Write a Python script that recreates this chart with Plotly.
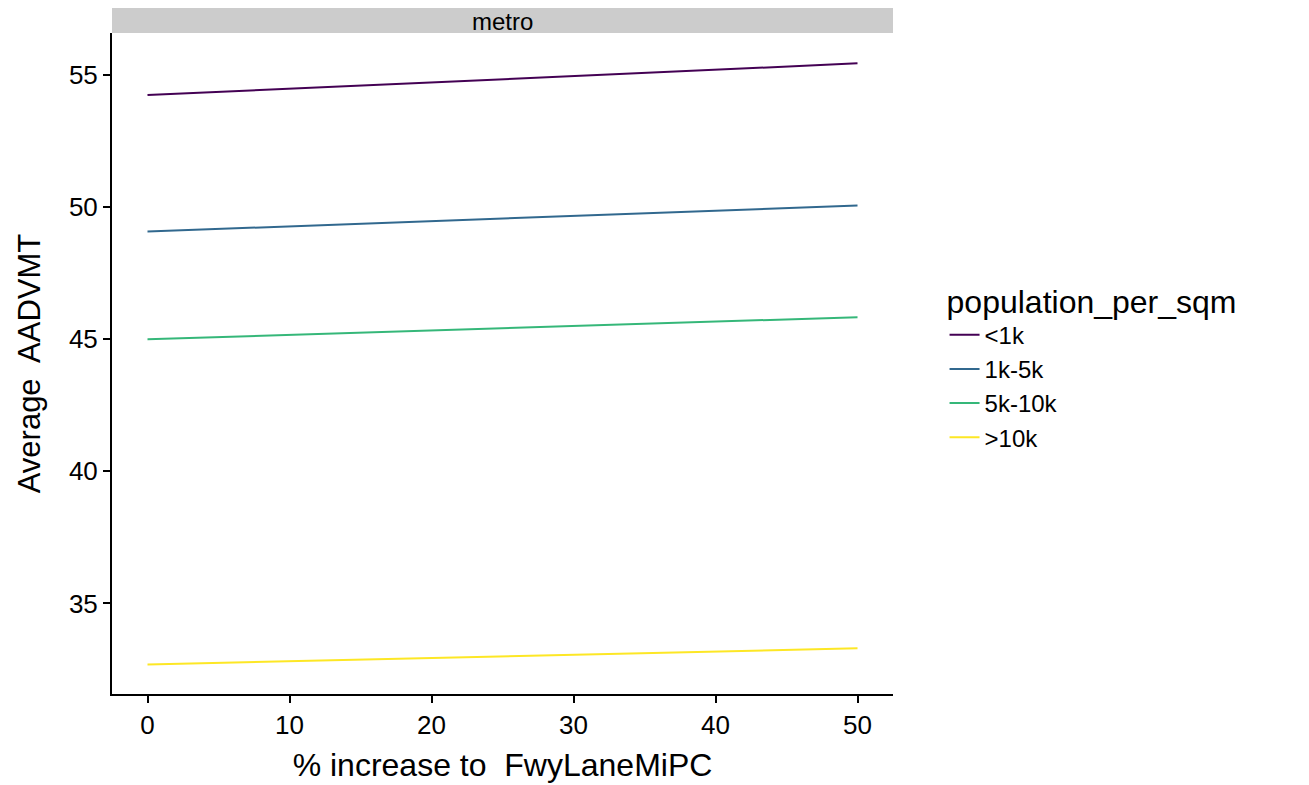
import plotly.graph_objects as go

# Data
x_pct = [0, 50]
categories = ["<1k", "1k-5k", "5k-10k", ">10k"]
series = {
    "<1k": [54.25, 55.45],
    "1k-5k": [49.08, 50.07],
    "5k-10k": [45.0, 45.84],
    ">10k": [32.69, 33.30],
}
colors = {"<1k": "#440154", "1k-5k": "#31688E", "5k-10k": "#35B779", ">10k": "#FDE725"}
x_ticks = [0, 10, 20, 30, 40, 50]
y_ticks = [35, 40, 45, 50, 55]
facet_label = "metro"

FONT = "Liberation Sans, Arial, sans-serif"

fig = go.Figure()
for c in categories:
    fig.add_trace(go.Scatter(
        x=x_pct, y=series[c], mode="lines", name=c,
        line=dict(color=colors[c], width=2),
    ))

W, H = 1309, 785
# page body has an 8px margin, compensate
ml, mr, mt, mb = 104, 424, 25, 99
ph = H - mt - mb

fig.update_layout(
    width=W, height=H,
    margin=dict(l=ml, r=mr, t=mt, b=mb, pad=0),
    paper_bgcolor="white", plot_bgcolor="white",
    font=dict(family=FONT, color="black"),
    showlegend=True,
    legend=dict(
        title=dict(text="population_per_sqm", font=dict(size=32, color="black")),
        font=dict(size=24, color="black"),
        x=1.066, xanchor="left", y=0.497, yanchor="middle",
        bgcolor="rgba(0,0,0,0)", itemwidth=30,
    ),
    xaxis=dict(
        range=[-2.5, 52.5], tickvals=x_ticks, ticktext=[str(v) for v in x_ticks],
        showgrid=False, zeroline=False,
        showline=True, linecolor="black", linewidth=2,
        ticks="outside", ticklen=7, tickwidth=2, tickcolor="black",
        tickfont=dict(size=26, color="black"),
        title=dict(text="% increase to  FwyLaneMiPC", font=dict(size=32, color="black"), standoff=14),
    ),
    yaxis=dict(
        range=[31.57, 56.6], tickvals=y_ticks, ticktext=[str(v) for v in y_ticks],
        showgrid=False, zeroline=False,
        showline=True, linecolor="black", linewidth=2,
        ticks="outside", ticklen=7, tickwidth=2, tickcolor="black",
        tickfont=dict(size=26, color="black"),
        title=dict(text="Average  AADVMT", font=dict(size=31, color="black"), standoff=19),
    ),
)

strip_h = 25 / ph
fig.add_shape(type="rect", xref="paper", yref="paper", x0=0, x1=1, y0=1, y1=1 + strip_h,
              fillcolor="#CCCCCC", line=dict(width=0), layer="below")
fig.add_annotation(text=facet_label, xref="paper", yref="paper", x=0.5, y=1 + strip_h / 2,
                   showarrow=False, font=dict(size=24, color="black"), yanchor="middle",
                   borderpad=0, yshift=-1)

fig.write_html("out.html")
